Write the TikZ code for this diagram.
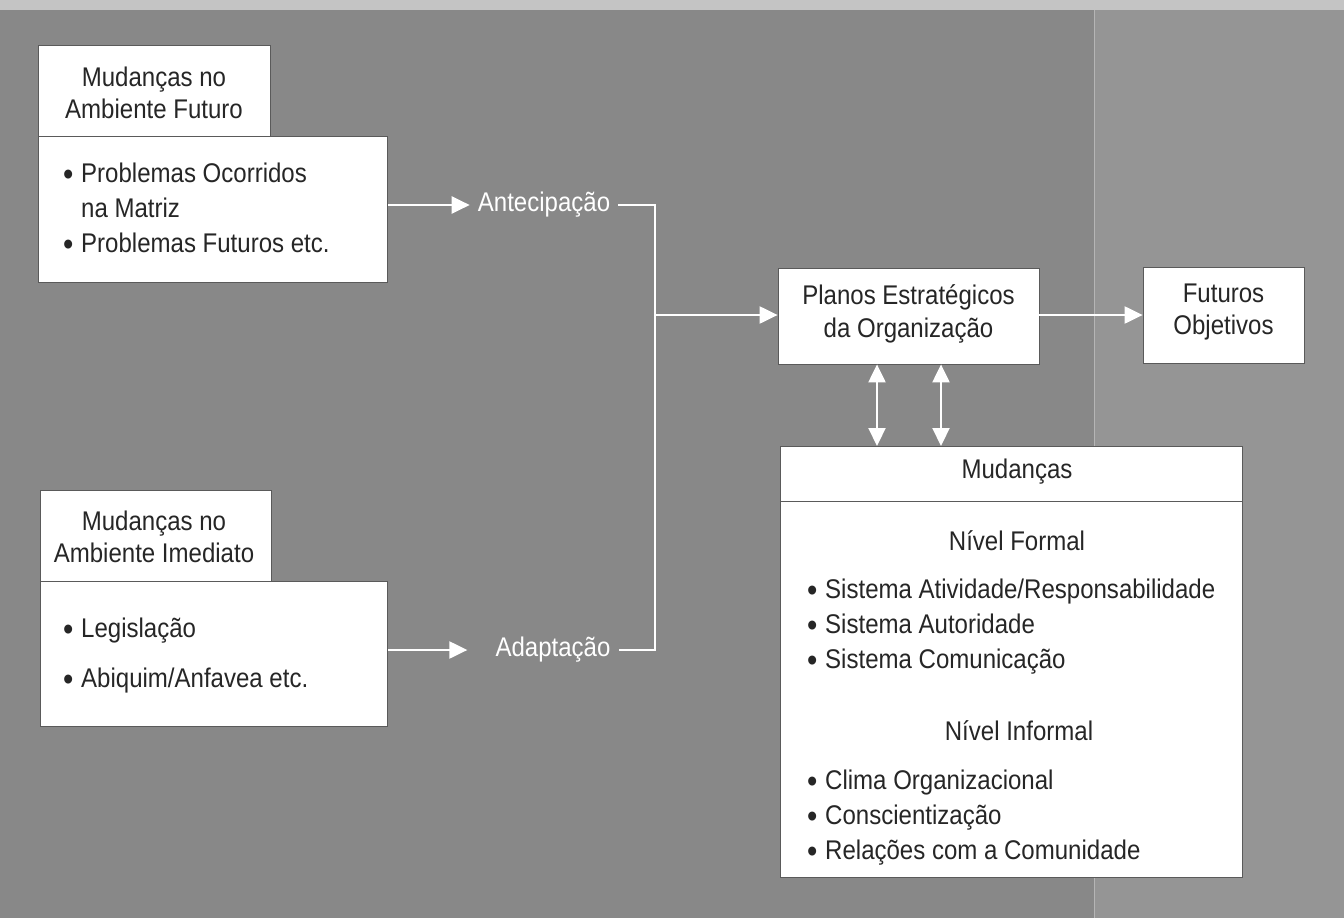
\documentclass[tikz,border=0pt]{standalone}
\usepackage{fontspec}
\setmainfont{Liberation Sans}[FakeStretch=0.89]
\usetikzlibrary{arrows.meta}
\definecolor{bg}{HTML}{888888}
\definecolor{bgright}{HTML}{959595}
\definecolor{bgtop}{HTML}{C4C4C4}
\definecolor{edge}{HTML}{5A5A5A}
\definecolor{ink}{HTML}{262626}
\tikzset{
  box/.style={draw=edge, line width=0.8pt, fill=white, inner sep=0pt},
  txt/.style={text=ink, font=\fontsize{27}{32}\selectfont, align=center, inner sep=0pt},
  lst/.style={text=ink, font=\fontsize{27}{35}\selectfont, align=left, inner sep=0pt, anchor=west},
  wlab/.style={text=white, font=\fontsize{27}{33}\selectfont, inner ysep=0pt, inner xsep=8pt},
  flow/.style={draw=white, line width=2.2pt, -{Triangle[length=18pt,width=17pt]}},
  link/.style={draw=white, line width=2.2pt},
  both/.style={draw=white, line width=2.2pt, {Triangle[length=18pt,width=17pt]}-{Triangle[length=18pt,width=17pt]}},
}
\newcommand{\bul}{\makebox[18pt][l]{\raisebox{-2.5pt}{\fontsize{33}{33}\selectfont\textbullet}}}
\begin{document}
\begin{tikzpicture}[x=1pt,y=-1pt]
\useasboundingbox (0,0) rectangle (1344,918);
\fill[bgtop] (0,0) rectangle (1344,10);
\fill[bg] (0,10) rectangle (1344,918);
\fill[bgright] (1094,10) rectangle (1344,918);
\draw[bgright!70!white, line width=0.6pt] (1094,10) -- (1094,918);

% --- Ambiente Futuro
\node[box, anchor=north west, minimum width=232pt, minimum height=91pt] (futT) at (38,45) {};
\node[box, anchor=north west, minimum width=349pt, minimum height=146pt] (futB) at (38,136) {};
\node[txt] (futTt) at (154,93) {Mudanças no\\Ambiente Futuro};
\node[lst] (futL) at (63,209) {\bul Problemas Ocorridos\\\hspace*{18pt}na Matriz\\\bul Problemas Futuros etc.};

% --- Ambiente Imediato
\node[box, anchor=north west, minimum width=231pt, minimum height=91pt] (imT) at (40,490) {};
\node[box, anchor=north west, minimum width=347pt, minimum height=145pt] (imB) at (40,581) {};
\node[txt] (imTt) at (154,537) {Mudanças no\\Ambiente Imediato};
\node[lst] (imL) at (63,656) {\bul Legislação\\[15pt]\bul Abiquim/Anfavea etc.};

% --- labels
\node[wlab] (ant) at (544,205) {Antecipação};
\node[wlab] (adap) at (553,650) {Adaptação};
\coordinate (antc) at (655,205);
\coordinate (adac) at (655,650);
\coordinate (jn) at (655,315);

% --- Planos / Futuros
\node[box, minimum width=261pt, minimum height=96pt] (plan) at (908.5,316) {};
\node[txt, font=\fontsize{27}{33}\selectfont] (plant) at (908.5,314) {Planos Estratégicos\\da Organização};
\node[box, minimum width=161pt, minimum height=96pt] (futo) at (1223.5,315) {};
\node[txt, font=\fontsize{27}{32}\selectfont] (futot) at (1223.5,312) {Futuros\\Objetivos};

% --- Mudanças
\node[box, anchor=north west, minimum width=462pt, minimum height=431pt] (mud) at (780,446) {};
\draw[edge, line width=1pt] ([yshift=-55pt]mud.north west) -- ([yshift=-55pt]mud.north east);
\node[txt] (mudt) at (1017,472) {Mudanças};
\node[txt] (nf) at (1017,541) {Nível Formal};
\node[lst] (nfL) at (807,627) {\bul Sistema Atividade/Responsabilidade\\\bul Sistema Autoridade\\\bul Sistema Comunicação};
\node[txt] (ni) at (1019,731) {Nível Informal};
\node[lst] (niL) at (807,818) {\bul Clima Organizacional\\\bul Conscientização\\\bul Relações com a Comunidade};

% --- connectors
\draw[flow] (futB.east |- ant.west) -- (ant.west);
\draw[flow] (imB.east |- adap.west) -- ([xshift=-20pt]adap.west);
\draw[link] (ant.east) -- (antc) -- (adac) -- (adap.east);
\draw[flow] (jn) -- (jn -| plan.west);
\draw[flow] (plan.east |- jn) -- (futo.west |- jn);
\draw[both] ([xshift=-31.5pt]plan.south) -- ([xshift=-31.5pt]plan.south |- mud.north);
\draw[both] ([xshift=32.5pt]plan.south) -- ([xshift=32.5pt]plan.south |- mud.north);
\end{tikzpicture}
\end{document}
